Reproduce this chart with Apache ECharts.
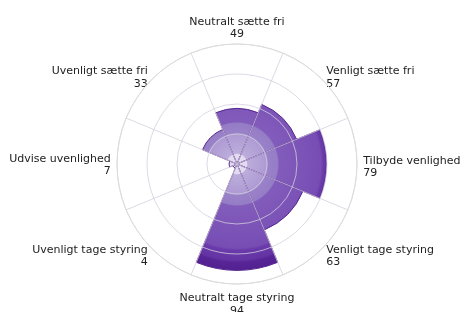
<!DOCTYPE html>
<html>
<head>
<meta charset="utf-8">
<script src="https://cdn.jsdelivr.net/npm/echarts@6/dist/echarts.min.js"></script>
<style>
html,body{margin:0;padding:0;background:#fff;}
#main{width:461px;height:312px;}
</style>
</head>
<body>
<div id="main"></div>
<script>
// kategorier, med uret fra toppen
var categories = ['Neutralt sætte fri', 'Venligt sætte fri', 'Tilbyde venlighed', 'Venligt tage styring',
	'Neutralt tage styring', 'Uvenligt tage styring', 'Udvise uvenlighed', 'Uvenligt sætte fri'];
var values = [49, 57, 79, 63, 94, 4, 7, 33];
// ringe
var radiusTicks = [0, 26.5, 53, 79.5, 106];

var cx = 237, cy = 164, R = 120;
var gridColor = 'rgba(212,206,222,0.78)';
var textColor = '#222';
var labelR = 111.5; // lidt uden for yderste ring

// tekstjustering for hver kategori-label
var labelAligns = ['center', 'left', 'left', 'left', 'center', 'right', 'right', 'right'];
var labelVAligns = ['bottom', 'middle', 'middle', 'middle', 'top', 'middle', 'middle', 'middle'];
var labelShiftY = [3, 3, 3, 3, 2, 3, 1, 3];

var labelData = [];
for (var i = 0; i < categories.length; i++) {
	labelData.push({
		value: [labelR, i],
		label: {
			align: labelAligns[i],
			verticalAlign: labelVAligns[i],
			offset: [0, labelShiftY[i]],
			color: textColor
		}
	});
}

var myChart = echarts.init(document.getElementById('main'));

var option = {
	animation: false,
	polar: {
		center: [cx, cy],
		radius: [0, R]
	},
	angleAxis: {
		type: 'category',
		data: categories,
		startAngle: 112.5,
		clockwise: true,
		z: 5,
		axisTick: {show: false},
		axisLabel: {show: false},
		axisLine: {lineStyle: {color: '#dcdcdc', width: 1}},
		splitLine: {show: true, lineStyle: {color: gridColor, width: 1}}
	},
	radiusAxis: {
		min: radiusTicks[0],
		max: radiusTicks[radiusTicks.length - 1],
		interval: radiusTicks[1] - radiusTicks[0],
		z: 5,
		axisLine: {show: false},
		axisTick: {show: false},
		axisLabel: {show: false},
		splitLine: {show: true, lineStyle: {color: gridColor, width: 1}}
	},
	series: [{
		type: 'bar',
		coordinateSystem: 'polar',
		data: values,
		barCategoryGap: '0%',
		itemStyle: {
			borderColor: '#55268f',
			borderWidth: 1,
			color: {
				type: 'radial', x: cx, y: cy, r: R, global: true,
				colorStops: [
					{offset: 0, color: '#e3dbef'}, {offset: 0.08, color: '#e3dbef'},
					{offset: 0.09, color: '#bcaddb'}, {offset: 0.25, color: '#ad9ad3'},
					{offset: 0.26, color: '#9a82c9'}, {offset: 0.34, color: '#957cc6'},
					{offset: 0.35, color: '#825cbb'}, {offset: 0.70, color: '#774db4'},
					{offset: 0.72, color: '#6a3aaa'}, {offset: 0.80, color: '#6434a5'},
					{offset: 0.82, color: '#582596'}, {offset: 1, color: '#4a1887'}
				]
			}
		}
	}, {
		// kategori-navne med værdi
		type: 'scatter',
		coordinateSystem: 'polar',
		clip: false,
		symbolSize: 0,
		silent: true,
		data: labelData,
		label: {
			show: true,
			position: [0, 0],
			color: textColor,
			opacity: 1,
			fontFamily: 'DejaVu Sans',
			fontSize: 11,
			lineHeight: 12.5,
			formatter: function (p) {
				return categories[p.dataIndex] + '\n' + values[p.dataIndex];
			}
		}
	}]
};

myChart.setOption(option);
</script>
</body>
</html>
